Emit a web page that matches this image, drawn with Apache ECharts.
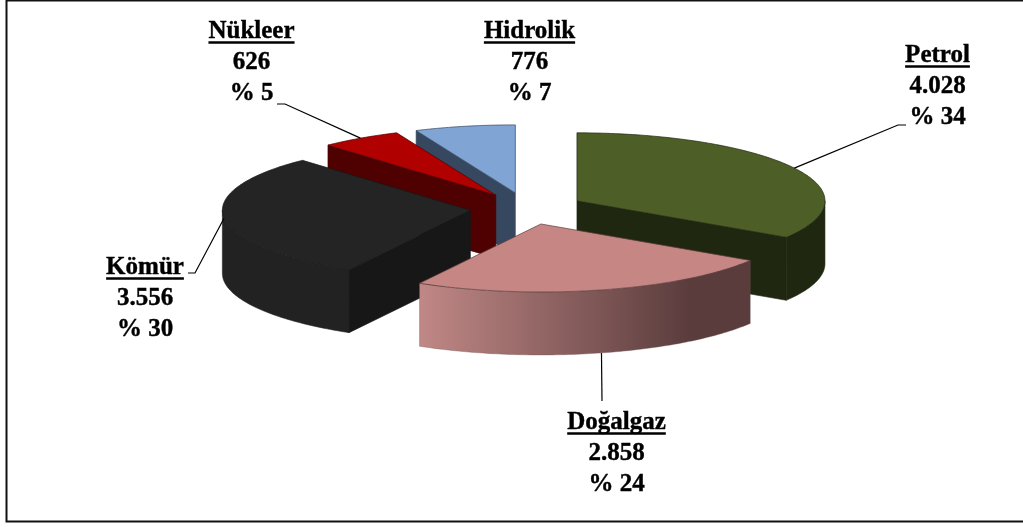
<!DOCTYPE html>
<html>
<head>
<meta charset="utf-8">
<style>html,body{margin:0;padding:0;background:#fff}#c{width:1023px;height:527px}</style>
<script src="https://cdn.jsdelivr.net/npm/echarts@6/dist/echarts.min.js"></script>
</head>
<body>
<div id="c"></div>
<script>
const categories = ['Petrol', 'Doğalgaz', 'Kömür', 'Nükleer', 'Hidrolik'];
const values = [4028, 2858, 3556, 626, 776];
const valueLabels = ['4.028', '2.858', '3.556', '626', '776'];
const percentLabels = ['% 34', '% 24', '% 30', '% 5', '% 7'];
const topColors = ['#4D5F27', '#C58684', '#242424', '#B00000', '#80A4D4'];
const cutColors = ['#1F2710', '#5A3C3C', '#171717', '#4F0000', '#36485F'];
const rimColors = ['#1F2710', null, '#222222', '#4F0000', '#36485F'];

// Geometry of the tilted pie
const PIE = { cx: 527, cy: 208.5, rx: 248, ry: 68, depth: 63, explode: 57 };
// Back-to-front painting order (indices into categories)
const paintOrder = [4, 3, 0, 2, 1];
// Label placement: centre x, first line y, leader elbow points
const labelLayout = [
  { x: 937.5, y: 55.5, elbow: [[898, 125], [906, 125]] },
  { x: 616.5, y: 422.5, elbow: [[602, 401]] },
  { x: 145, y: 267.5, elbow: [[195, 273], [188, 273]] },
  { x: 251.5, y: 31.5, elbow: [[285, 104], [277, 104]] },
  { x: 529.5, y: 31.5, elbow: null }
];
const FONT = 'bold 25px "Liberation Serif", "Times New Roman", serif';
const LINE_GAP = 31;

const total = values.reduce((a, b) => a + b, 0);
const RAD = Math.PI / 180;
let acc = 0;
const slices = values.map((v, i) => {
  const start = acc / total * 360;
  acc += v;
  const end = acc / total * 360;
  const mid = (start + end) / 2;
  return {
    i, start, end, mid,
    ax: PIE.cx + PIE.explode * Math.sin(mid * RAD),
    ay: PIE.cy - PIE.explode * 0.28 * Math.cos(mid * RAD)
  };
});
const rim = (s, deg, drop) => [
  s.ax + PIE.rx * Math.sin(deg * RAD),
  s.ay - PIE.ry * Math.cos(deg * RAD) + (drop || 0)
];
const measure = document.createElement('canvas').getContext('2d');
measure.font = FONT;

function poly(points, fill, stroke, lw) {
  return {
    type: 'polygon',
    shape: { points },
    style: { fill, stroke: stroke || fill, lineWidth: lw === undefined ? 0.6 : lw, lineJoin: 'round' },
    silent: true
  };
}
function cutWall(s, deg) {
  const p = rim(s, deg);
  return poly([[s.ax, s.ay], p, [p[0], p[1] + PIE.depth], [s.ax, s.ay + PIE.depth]], cutColors[s.i]);
}
function renderSlice(params) {
  const s = slices[paintOrder[params.dataIndex]];
  const i = s.i;
  const children = [];
  // straight cut faces that turn towards the viewer
  if (Math.sin(s.start * RAD) < -1e-6) children.push(cutWall(s, s.start));
  if (Math.sin(s.end * RAD) > 1e-6) children.push(cutWall(s, s.end));
  // curved outer face: only the front half of the ellipse
  const a0 = Math.max(s.start, 90), a1 = Math.min(s.end, 270);
  if (a1 > a0) {
    const up = [], down = [];
    for (let d = a0; d < a1; d += 1) { up.push(rim(s, d)); down.unshift(rim(s, d, PIE.depth)); }
    up.push(rim(s, a1)); down.unshift(rim(s, a1, PIE.depth));
    let fill = rimColors[i];
    let stroke = fill;
    if (!fill) {
      // light source on the left of the Doğalgaz face (its start is on the right)
      fill = new echarts.graphic.LinearGradient(0, 0, 1, 0, [
        { offset: 0, color: '#C08886' },
        { offset: 0.82, color: '#5A3C3C' },
        { offset: 1, color: '#5A3C3C' }
      ]);
      stroke = 'rgba(110,85,85,0.6)';
    }
    children.push(poly(up.concat(down), fill, stroke));
  }
  // top face
  const top = [[s.ax, s.ay]];
  for (let d = s.start; d < s.end; d += 1) top.push(rim(s, d));
  top.push(rim(s, s.end));
  children.push(poly(top, topColors[i], cutColors[i], 0.7));

  // leader line from the slice rim at its middle angle
  const l = labelLayout[i];
  if (l.elbow) {
    const front = Math.cos(s.mid * RAD) < -0.5;
    const startP = rim(s, s.mid, front ? PIE.depth : 0);
    children.push({
      type: 'polyline',
      shape: { points: [startP].concat(l.elbow) },
      style: { stroke: '#000', lineWidth: 1.2, fill: null },
      silent: true
    });
  }
  // three-line label with underlined name
  [categories[i], valueLabels[i], percentLabels[i]].forEach((t, k) => {
    children.push({
      type: 'text',
      style: {
        text: t, x: l.x, y: l.y + k * LINE_GAP,
        align: 'center', verticalAlign: 'middle', font: FONT, fill: '#000',
        stroke: '#000', lineWidth: 0.4
      },
      silent: true
    });
  });
  const w = measure.measureText(categories[i]).width;
  children.push({
    type: 'line',
    shape: { x1: l.x - w / 2, y1: l.y + 11, x2: l.x + w / 2, y2: l.y + 11 },
    style: { stroke: '#000', lineWidth: 2.4 },
    silent: true
  });
  return { type: 'group', children };
}

const chart = echarts.init(document.getElementById('c'), null, { renderer: 'canvas' });
chart.setOption({
  animation: false,
  backgroundColor: '#fff',
  graphic: [{
    type: 'rect',
    shape: { x: 6.5, y: 0.5, width: 1040, height: 521 },
    style: { fill: null, stroke: '#111', lineWidth: 2 },
    silent: true,
    z: -10
  }],
  series: [{
    type: 'custom',
    coordinateSystem: 'none',
    renderItem: renderSlice,
    silent: true,
    data: paintOrder.map(i => ({ name: categories[i], value: values[i] }))
  }]
});
</script>
</body>
</html>
